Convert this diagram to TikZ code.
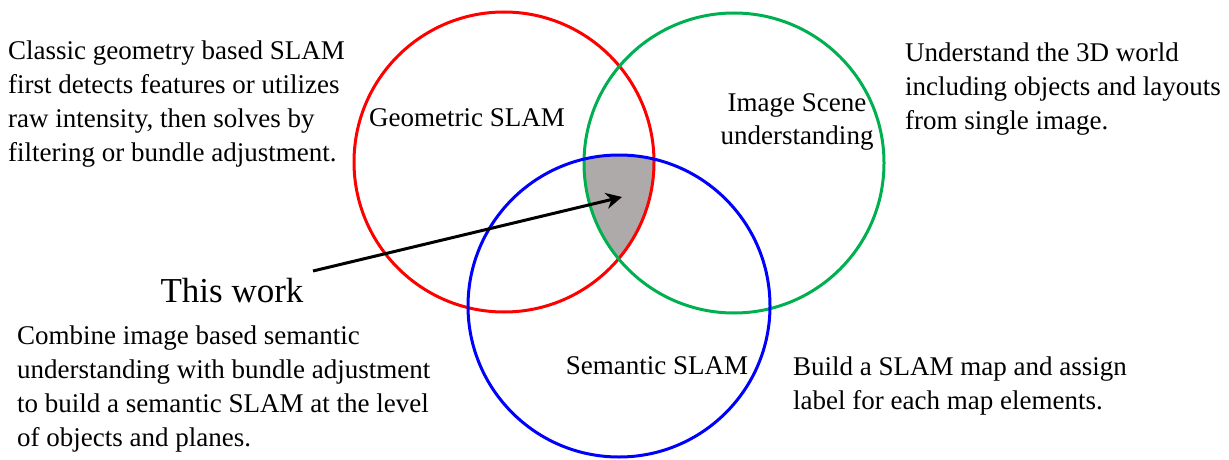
\documentclass[tikz,border=0pt]{standalone}
\usepackage{fontspec}
\setmainfont{Liberation Serif}
\usetikzlibrary{arrows.meta}
\definecolor{cred}{HTML}{FF0000}
\definecolor{cgreen}{HTML}{00B050}
\definecolor{cblue}{HTML}{0000FF}
\definecolor{cgray}{HTML}{AEAAAA}
\begin{document}
\begin{tikzpicture}[x=1pt,y=-1pt,
  ring/.style={line width=3pt},
  desc/.style={inner sep=0pt,align=left,anchor=west,font=\fontsize{27}{34}\selectfont},
  lbl/.style={inner sep=0pt,align=center,font=\fontsize{27}{33}\selectfont},
  pointer/.style={line width=3pt,-{Stealth[length=16pt,width=16pt]}}]
\useasboundingbox (0,0) rectangle (1229,460);
\begin{scope}
  \clip (504,162) circle (150);
  \clip (734,163) circle (150);
  \fill[cgray] (619,306) circle (151);
\end{scope}
\draw[ring,cred] (504,162) circle (150);
\draw[ring,cgreen] (734,163) circle (150);
\draw[ring,cblue] (619,306) circle (151);

\node[desc] (geo) at (8,104) {Classic geometry based SLAM\\first detects features or utilizes\\raw intensity, then solves by\\filtering or bundle adjustment.};
\node[desc] (und) at (905,89) {Understand the 3D world\\including objects and layouts\\from single image.};
\node[desc] (comb) at (17,389) {Combine image based semantic\\understanding with bundle adjustment\\to build a semantic SLAM at the level\\of objects and planes.};
\node[desc] (build) at (793,386) {Build a SLAM map and assign\\label for each map elements.};

\node[lbl] (gs) at (467,118) {Geometric SLAM};
\node[lbl] (is) at (797,122) {Image Scene\\understanding};
\node[lbl] (ss) at (657,366) {Semantic SLAM};
\node[lbl,font=\fontsize{35}{40}\selectfont] (tw) at (232,291) {This work};

\coordinate (tail) at (313,271);
\coordinate (tip) at (622,197);
\draw[pointer] (tail) -- (tip);
\end{tikzpicture}
\end{document}
